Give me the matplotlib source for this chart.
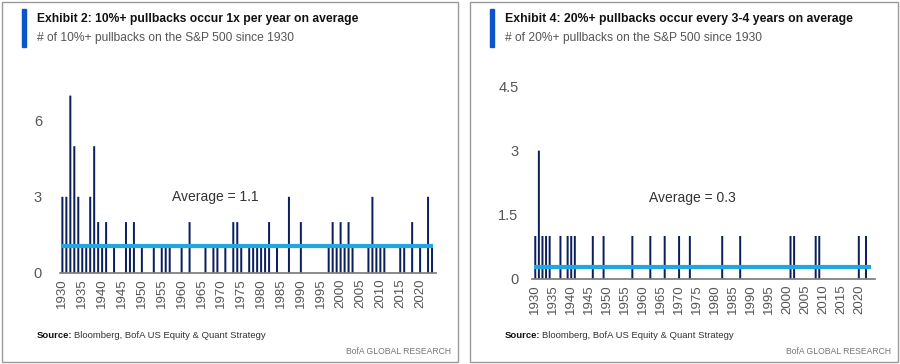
import matplotlib
matplotlib.use("Agg")
import matplotlib.pyplot as plt
from matplotlib.patches import Rectangle

# Exhibit 2: number of 10%+ pullbacks per year
years_10 = [1930, 1931, 1932, 1933, 1934, 1935, 1936, 1937, 1938, 1939, 1940, 1941,
            1943, 1946, 1947, 1948, 1950, 1953, 1955, 1956, 1957, 1960, 1962, 1966,
            1968, 1969, 1971, 1973, 1974, 1975, 1977, 1978, 1979, 1980, 1981, 1982,
            1984, 1987, 1990, 1997, 1998, 1999, 2000, 2001, 2002, 2003, 2007, 2008,
            2009, 2010, 2011, 2015, 2016, 2018, 2020, 2022, 2023]
counts_10 = [3, 3, 7, 5, 3, 1, 1, 3, 5, 2, 1, 2,
             1, 2, 1, 2, 1, 1, 1, 1, 1, 1, 2, 1,
             1, 1, 1, 2, 2, 1, 1, 1, 1, 1, 1, 2,
             1, 3, 2, 1, 2, 1, 2, 1, 2, 1, 1, 3,
             1, 1, 1, 1, 1, 2, 1, 3, 1]
avg_10 = 1.05

# Exhibit 4: number of 20%+ pullbacks per year
years_20 = [1930, 1931, 1932, 1933, 1934, 1937, 1939, 1940, 1941, 1946, 1949, 1957,
            1962, 1966, 1970, 1973, 1982, 1987, 2001, 2002, 2008, 2009, 2020, 2022]
counts_20 = [1, 3, 1, 1, 1, 1, 1, 1, 1, 1, 1, 1,
             1, 1, 1, 1, 1, 1, 1, 1, 1, 1, 1, 1]
avg_20 = 0.28

xtick_years = list(range(1930, 2021, 5))

NAVY = "#0a1f5c"
LIGHT = "#1ea7e1"
BLUE = "#0a56c8"
GREY = "#555555"

W, H = 900, 364
plt.rcParams['font.family'] = ["Liberation Sans", "DejaVu Sans"]
fig = plt.figure(figsize=(W / 100, H / 100), dpi=100)
renderer = fig.canvas.get_renderer()


def ax_at(left, top_px, width, bottom_px):
    return fig.add_axes([left / W, 1 - bottom_px / H, width / W, (bottom_px - top_px) / H])


def text_px(x, y, s, width=None, **kw):
    # put a text at pixel position; optionally scale it to a target pixel width
    t = fig.text(x / W, 1 - y / H, s, va="center", **kw)
    if width:
        w = t.get_window_extent(renderer).width
        t.set_fontsize(t.get_fontsize() * width / w)
    return t


def panel(x0, x1, title, subtitle, title_w):
    fig.patches.append(Rectangle((x0 / W, 1 - 362 / H), (x1 - x0) / W, 360 / H,
                                 transform=fig.transFigure, fill=False,
                                 edgecolor="#9a9a9a", linewidth=1.0))
    fig.patches.append(Rectangle(((x0 + 20) / W, 1 - 47 / H), 4 / W, 38 / H,
                                 transform=fig.transFigure, color=BLUE))
    text_px(x0 + 35, 19, title, width=title_w, fontsize=9, fontweight="bold",
            color="#111111")
    text_px(x0 + 35, 38, subtitle, width=258, fontsize=9, color=GREY)
    s = text_px(x0 + 35, 335, "Source:", fontsize=6.8, fontweight="bold",
                color="#111111")
    sw = s.get_window_extent(renderer).width
    text_px(x0 + 35 + sw + 2, 335, "Bloomberg, BofA US Equity & Quant Strategy",
            fontsize=6.8, color="#333333")
    text_px(x1 - 7, 351, "BofA GLOBAL RESEARCH", fontsize=6.2, ha="right",
            color="#777777")


def style(ax, yticks, ylabels, pad):
    for s in ["top", "right", "left"]:
        ax.spines[s].set_visible(False)
    ax.spines["bottom"].set_color("#777777")
    ax.spines["bottom"].set_linewidth(1.2)
    ax.set_xticks(xtick_years)
    ax.set_xticklabels([str(y) for y in xtick_years], rotation=90, fontsize=9.5,
                       color=GREY)
    ax.set_yticks(yticks)
    ax.set_yticklabels(ylabels, fontsize=10.5, color=GREY)
    ax.tick_params(axis="x", length=0, pad=4)
    ax.tick_params(axis="y", length=0, pad=pad)
    ax.patch.set_alpha(0)


panel(2, 458, "Exhibit 2: 10%+ pullbacks occur 1x per year on average",
      "# of 10%+ pullbacks on the S&P 500 since 1930", 321)
panel(470, 898, "Exhibit 4: 20%+ pullbacks occur every 3-4 years on average",
      "# of 20%+ pullbacks on the S&P 500 since 1930", 350)

# left chart
ax1 = ax_at(60, 70.3, 376, 272.7)
ax1.bar(years_10, counts_10, width=0.5, color=NAVY, linewidth=0, snap=False)
ax1.hlines(avg_10, 1929.7, 2023.3, color=LIGHT, linewidth=3)
ax1.set_xlim(1929.4, 2024.0)
ax1.set_ylim(0, 8)
style(ax1, [0, 3, 6], ["0", "3", "6"], 13)
ax1.text(1968.4, 3.0, "Average = 1.1", fontsize=10, color="#333333",
         ha="center", va="center")

# right chart
ax2 = ax_at(532.4, 82.3, 342.6, 278.7)
ax2.bar(years_20, counts_20, width=0.55, color=NAVY, linewidth=0, snap=False)
ax2.hlines(avg_20, 1929.7, 2023.4, color=LIGHT, linewidth=3)
ax2.set_xlim(1929.2, 2024.5)
ax2.set_ylim(0, 4.6)
style(ax2, [0, 1.5, 3, 4.5], ["0", "1.5", "3", "4.5"], 10)
ax2.text(1973.6, 1.88, "Average = 0.3", fontsize=10, color="#333333",
         ha="center", va="center")

fig.savefig("out.png", dpi=100)
